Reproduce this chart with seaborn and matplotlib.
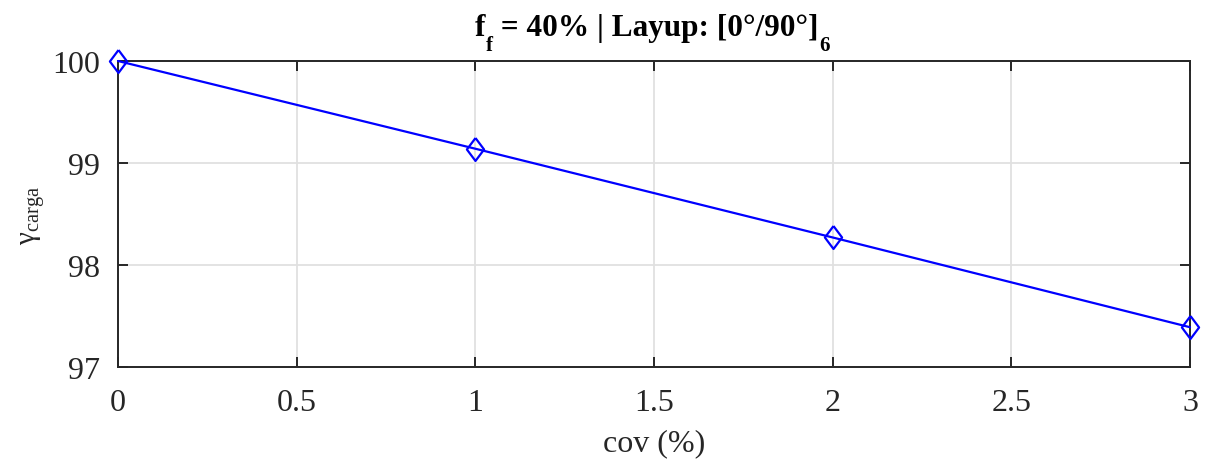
import matplotlib
matplotlib.use("Agg")
import matplotlib.pyplot as plt
import seaborn as sns
import pandas as pd

cov = [0, 1, 2, 3]
gamma = [100.0, 99.14, 98.27, 97.39]
xticks = [0, 0.5, 1, 1.5, 2, 2.5, 3]
xticklabels = ["0", "0.5", "1", "1.5", "2", "2.5", "3"]
yticks = [97, 98, 99, 100]
yticklabels = ["97", "98", "99", "100"]

sns.set_style("white")
plt.rcParams['font.family'] = ['Liberation Serif', 'DejaVu Serif']
plt.rcParams['mathtext.fontset'] = 'custom'
plt.rcParams['mathtext.rm'] = 'Liberation Serif'
plt.rcParams['mathtext.it'] = 'Liberation Serif:italic'
plt.rcParams['mathtext.bf'] = 'Liberation Serif:bold'

DARK = (0.15, 0.15, 0.15)
W, H = 1208, 460
df = pd.DataFrame({"cov": cov, "gamma": gamma})

fig = plt.figure(figsize=(W / 100, H / 100), dpi=100)
ax = fig.add_axes([118 / W, 92 / H, (1190 - 118) / W, (368 - 62) / H])

diamond = [(0, 1), (0.75, 0), (0, -1), (-0.75, 0), (0, 1)]
sns.lineplot(data=df, x="cov", y="gamma", ax=ax, color=(0, 0, 1), linewidth=1.6,
             marker=diamond, markersize=16.5, markerfacecolor="none",
             markeredgecolor=(0, 0, 1), markeredgewidth=1.6, clip_on=False, zorder=5)

ax.set_xlim(0, 3)
ax.set_ylim(97, 100)
ax.set_xticks(xticks)
ax.set_xticklabels(xticklabels)
ax.set_yticks(yticks)
ax.set_yticklabels(yticklabels)
ax.grid(True, color=(0.88, 0.88, 0.88), linewidth=1.3)
ax.set_axisbelow(True)
for s in ax.spines.values():
    s.set_color(DARK)
    s.set_linewidth(1.4)
ax.tick_params(direction="in", length=7, width=1.4, color=DARK,
               top=True, right=True, bottom=True, left=True,
               labelsize=23, labelcolor=DARK)
ax.tick_params(axis="x", pad=15)
ax.tick_params(axis="y", pad=13)

ax.set_xlabel("cov (%)", fontsize=23, color=DARK, labelpad=8)
ax.set_ylabel("γ$_{\\mathrm{carga}}$", fontsize=21, color=DARK, labelpad=4)

# Title with MATLAB-like lowered subscripts
MAIN, SUB = 22.5, 15
tkw = dict(fontweight="bold", color="black")
t0 = fig.text(0, 1 - 35 / H, "f", fontsize=MAIN, ha="left", va="baseline", **tkw)
t1 = fig.text(0, 0, "f", fontsize=SUB, ha="left", va="baseline", **tkw)
t2 = fig.text(0, 0, " = 40% | Layup: [0°/90°]", fontsize=MAIN, ha="left", va="baseline", **tkw)
t3 = fig.text(0, 0, "6", fontsize=SUB, ha="left", va="baseline", **tkw)

fig.canvas.draw()
r = fig.canvas.get_renderer()
base_y = H - 36


def place(prev, t, dx, dy_from_base):
    bb = prev.get_window_extent(r)
    t.set_position(((bb.x1 + dx) / W, (base_y + dy_from_base) / H))


total = 0
for t in (t0, t1, t2, t3):
    total += t.get_window_extent(r).width
start = 653 - (total + 2) / 2
t0.set_position((start / W, base_y / H))
fig.canvas.draw()
place(t0, t1, 0, -15)
fig.canvas.draw()
place(t1, t2, 0, 0)
fig.canvas.draw()
place(t2, t3, 1, -15)

fig.savefig("out.png", dpi=100)
